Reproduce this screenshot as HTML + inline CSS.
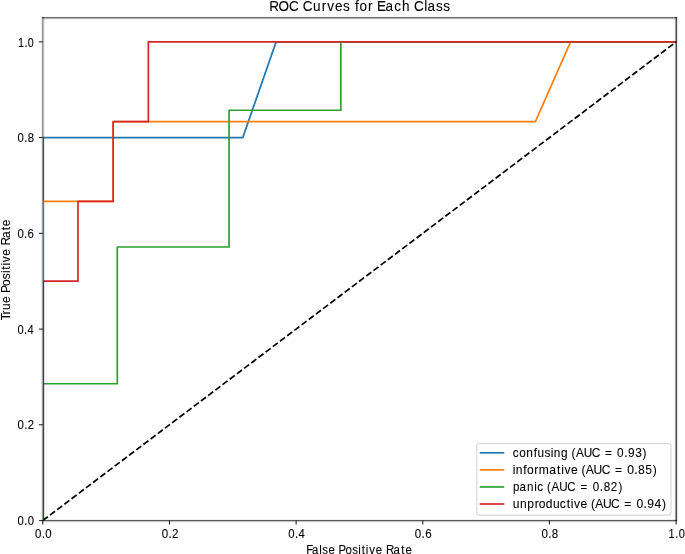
<!DOCTYPE html><html><head><meta charset="utf-8"><title>ROC Curves for Each Class</title><style>html,body{margin:0;padding:0;background:#fff;overflow:hidden}svg{display:block}text{font-family:"Liberation Sans",sans-serif;fill:#000;font-kerning:none;font-variant-ligatures:none;stroke:#000;stroke-width:0.1px}</style></head><body>
<svg width="685" height="554" viewBox="0 0 685 554">
<rect x="0" y="0" width="685" height="554" fill="#fff"/>
<defs><clipPath id="ax"><rect x="43" y="17.80" width="633.10" height="502.70"/></clipPath></defs>
<g clip-path="url(#ax)" fill="none" stroke-width="1.7" stroke-linejoin="round" stroke-linecap="square">
<polyline points="43.20,520.50 43.20,137.62 242.79,137.62 276.12,41.90 676.10,41.90" stroke="#1f77b4"/>
<polyline points="43.20,520.50 43.20,201.43 113.17,201.43 113.17,121.67 535.37,121.67 570.55,41.90 676.10,41.90" stroke="#ff7f0e"/>
<polyline points="43.20,520.50 43.20,383.76 117.31,383.76 117.31,247.01 229.06,247.01 229.06,110.27 340.82,110.27 340.82,41.90 676.10,41.90" stroke="#2ca02c"/>
<polyline points="43.20,520.50 43.20,281.20 77.98,281.20 77.98,201.43 113.17,201.43 113.17,121.67 148.35,121.67 148.35,41.90 676.10,41.90" stroke="#d62728"/>
<line x1="42.80" y1="520.50" x2="676.10" y2="41.90" stroke="#000" stroke-dasharray="6.290 2.720" stroke-linecap="butt"/>
</g>
<g fill="#000" shape-rendering="crispEdges">
<rect x="41" y="17" width="1" height="504" fill-opacity="0.08"/>
<rect x="42" y="17" width="1" height="504" fill-opacity="0.39"/>
<rect x="43" y="17" width="1" height="504" fill-opacity="0.29"/>
<rect x="44" y="17" width="1" height="504" fill-opacity="0.05"/>
<rect x="674" y="17" width="1" height="504" fill-opacity="0.03"/>
<rect x="675" y="17" width="1" height="504" fill-opacity="0.37"/>
<rect x="676" y="17" width="1" height="504" fill-opacity="0.71"/>
<rect x="677" y="17" width="1" height="504" fill-opacity="0.1"/>
<rect x="42" y="16" width="635" height="1" fill-opacity="0.03"/>
<rect x="42" y="17" width="635" height="1" fill-opacity="0.57"/>
<rect x="42" y="18" width="635" height="1" fill-opacity="0.31"/>
<rect x="42" y="19" width="635" height="1" fill-opacity="0.04"/>
<rect x="42" y="519" width="635" height="1" fill-opacity="0.06"/>
<rect x="42" y="520" width="635" height="1" fill-opacity="0.65"/>
<rect x="42" y="521" width="635" height="1" fill-opacity="0.22"/>
<rect x="42" y="522" width="635" height="1" fill-opacity="0.04"/>
</g>
<g stroke="#000" stroke-width="0.9">
<line x1="42.80" y1="520.62" x2="42.80" y2="524.59"/>
<line x1="38.83" y1="520.62" x2="42.80" y2="520.62"/>
<line x1="169.46" y1="520.62" x2="169.46" y2="524.59"/>
<line x1="38.83" y1="424.78" x2="42.80" y2="424.78"/>
<line x1="296.12" y1="520.62" x2="296.12" y2="524.59"/>
<line x1="38.83" y1="329.06" x2="42.80" y2="329.06"/>
<line x1="422.78" y1="520.62" x2="422.78" y2="524.59"/>
<line x1="38.83" y1="233.34" x2="42.80" y2="233.34"/>
<line x1="549.44" y1="520.62" x2="549.44" y2="524.59"/>
<line x1="38.83" y1="137.62" x2="42.80" y2="137.62"/>
<line x1="676.10" y1="520.62" x2="676.10" y2="524.59"/>
<line x1="38.83" y1="41.90" x2="42.80" y2="41.90"/>
</g>
<rect x="476.75" y="443.50" width="194.20" height="71.60" rx="2.27" ry="2.27" fill="#fff" fill-opacity="0.8" stroke="#ccc" stroke-opacity="0.8" stroke-width="1.13"/>
<line x1="480.60" y1="452.80" x2="503.40" y2="452.80" stroke="#1f77b4" stroke-width="1.7" stroke-linecap="square"/>
<line x1="480.60" y1="469.90" x2="503.40" y2="469.90" stroke="#ff7f0e" stroke-width="1.7" stroke-linecap="square"/>
<line x1="480.60" y1="486.95" x2="503.40" y2="486.95" stroke="#2ca02c" stroke-width="1.7" stroke-linecap="square"/>
<line x1="480.60" y1="504.00" x2="503.40" y2="504.00" stroke="#d62728" stroke-width="1.7" stroke-linecap="square"/>
<g style="opacity:0.999">
<text x="-1.48 9.33 21.20 32.62 36.97 48.65 58.84 65.01 73.97 83.30 91.42 96.83 101.94 111.93 117.70 122.01 131.99 141.84 150.78 160.31 164.66 176.20 179.95 189.86 197.95" y="0" font-size="15.524" transform="translate(270.42,11.13) scale(0.8728,1)">ROC Curves for Each Class</text>
<text x="-1.58 4.92 13.48 16.97 24.00 31.95 35.65 43.67 51.57 58.58 62.58 67.39 71.25 78.84 86.79 90.71 99.41 108.31 113.14" y="0" font-size="13.266" transform="translate(307.68,554.02) scale(0.8636,1)">False Positive Rate</text>
<text x="-0.16 5.97 10.41 17.70 24.78 27.93 35.03 42.02 48.27 51.77 56.03 59.36 66.04 73.12 76.45 84.16 92.09 96.28" y="0" font-size="12.231" transform="translate(9.86,320.21) rotate(-90) scale(0.9772,1)">True Positive Rate</text>
<text x="-0.49 6.87 10.77" y="0" font-size="12.478" transform="translate(35.42,537.61) scale(0.9195,1)">0.0</text>
<text x="-0.49 6.87 10.77" y="0" font-size="12.478" transform="translate(17.96,525.38) scale(0.9020,1)">0.0</text>
<text x="-0.45 7.01 10.84" y="0" font-size="12.478" transform="translate(162.06,537.61) scale(0.9263,1)">0.2</text>
<text x="-0.45 7.01 10.84" y="0" font-size="12.478" transform="translate(17.96,429.20) scale(0.9087,1)">0.2</text>
<text x="-0.49 6.87 10.77" y="0" font-size="12.478" transform="translate(288.69,537.61) scale(0.9136,1)">0.4</text>
<text x="-0.49 6.87 10.77" y="0" font-size="12.478" transform="translate(17.96,333.83) scale(0.8957,1)">0.4</text>
<text x="-0.54 6.74 10.55" y="0" font-size="12.478" transform="translate(415.33,537.61) scale(0.9316,1)">0.6</text>
<text x="-0.54 6.74 10.55" y="0" font-size="12.478" transform="translate(17.96,237.65) scale(0.9140,1)">0.6</text>
<text x="-0.51 6.83 10.70" y="0" font-size="12.478" transform="translate(541.96,537.61) scale(0.9252,1)">0.8</text>
<text x="-0.51 6.83 10.70" y="0" font-size="12.478" transform="translate(17.96,142.28) scale(0.9077,1)">0.8</text>
<text x="-1.03 6.51 10.52" y="0" font-size="12.478" transform="translate(669.41,537.61) scale(0.8814,1)">1.0</text>
<text x="-1.03 6.51 10.52" y="0" font-size="12.478" transform="translate(18.78,46.92) scale(0.8641,1)">1.0</text>
<text x="-0.66 6.38 14.18 22.27 26.43 34.11 40.82 44.36 52.17 60.00 63.73 68.59 77.07 85.93 95.22 100.45 109.65 113.79 121.55 125.66 133.66 141.83" y="0" font-size="13.000" transform="translate(513.47,456.80) scale(0.9106,1)">confusing (AUC = 0.93)</text>
<text x="-0.89 2.55 10.54 14.50 22.45 27.29 38.33 46.74 51.25 54.77 61.84 69.35 73.01 77.76 86.09 94.80 103.99 109.10 118.18 122.22 129.88 133.93 141.69 149.82" y="0" font-size="13.000" transform="translate(513.47,473.86) scale(0.9304,1)">informative (AUC = 0.85)</text>
<text x="-0.63 6.79 15.26 23.24 26.57 33.71 37.55 42.57 51.27 60.35 69.80 75.21 84.58 88.87 96.78 101.07 109.04 117.55" y="0" font-size="13.000" transform="translate(513.47,490.93) scale(0.8925,1)">panic (AUC = 0.82)</text>
<text x="-0.80 7.02 14.84 22.85 27.16 34.72 42.54 50.03 57.36 61.86 65.38 72.43 79.93 83.58 88.31 96.63 105.32 114.50 119.60 128.66 132.69 140.34 144.34 152.17 160.24" y="0" font-size="13.000" transform="translate(513.47,508.00) scale(0.9271,1)">unproductive (AUC = 0.94)</text>
</g>
</svg></body></html>
